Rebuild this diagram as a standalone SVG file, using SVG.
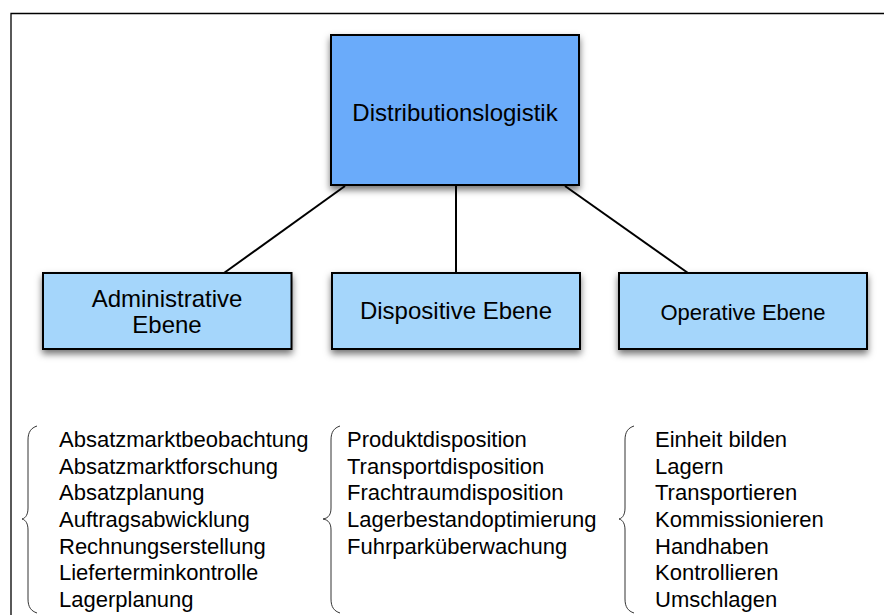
<svg xmlns="http://www.w3.org/2000/svg" width="884" height="615" viewBox="0 0 884 615">
  <style>
    .frame { fill: none; stroke: #000; stroke-width: 1.3; }
    .box { stroke: #000; stroke-width: 2; filter: url(#shadow); }
    .root { fill: #6aabfa; }
    .level { fill: #a5d6fb; }
    .label { font-family: "Liberation Sans", Arial, sans-serif; fill: #000; text-anchor: middle; }
    .item { font-family: "Liberation Sans", Arial, sans-serif; font-size: 22px; fill: #000; }
    .edge { stroke: #000; stroke-width: 2; fill: none; }
    .brace { stroke: #333; stroke-width: 1; fill: none; }
  </style>
  <defs>
    <filter id="shadow" x="-10%" y="-10%" width="120%" height="130%">
      <feDropShadow dx="0" dy="4" stdDeviation="3.5" flood-color="#000" flood-opacity="0.55"/>
    </filter>
  </defs>

  <rect width="884" height="615" fill="#fff"/>
  <path class="frame" d="M11,615 V13.5 H884"/>

  <!-- connectors -->
  <g id="connectors">
    <line class="edge" x1="345" y1="186" x2="224" y2="273"/>
    <line class="edge" x1="456" y1="186" x2="456" y2="273"/>
    <line class="edge" x1="565" y1="186" x2="688" y2="273"/>
  </g>

  <g id="distributionslogistik">
    <rect class="box root" x="331" y="35" width="248" height="150"/>
    <text class="label" x="455" y="121" font-size="24">Distributionslogistik</text>
  </g>

  <g id="administrative-ebene">
    <rect class="box level" x="43" y="273" width="248.5" height="76"/>
    <text class="label" x="167" y="307" font-size="24">Administrative</text>
    <text class="label" x="167" y="333" font-size="24">Ebene</text>
  </g>

  <g id="dispositive-ebene">
    <rect class="box level" x="332" y="273" width="248" height="76"/>
    <text class="label" x="456" y="319" font-size="24">Dispositive Ebene</text>
  </g>

  <g id="operative-ebene">
    <rect class="box level" x="619" y="273" width="248" height="76"/>
    <text class="label" x="743" y="320" font-size="22">Operative Ebene</text>
  </g>

  <!-- task lists with braces -->
  <g id="list-administrative">
    <path class="brace" d="M37,426 C31,428 28,432 28,440 L28,508 C28,514 26,518 22,519 C26,520 28,524 28,530 L28,599 C28,607 31,611 37,613"/>
    <text class="item" x="59" y="447">Absatzmarktbeobachtung</text>
    <text class="item" x="59" y="474">Absatzmarktforschung</text>
    <text class="item" x="59" y="500">Absatzplanung</text>
    <text class="item" x="59" y="527">Auftragsabwicklung</text>
    <text class="item" x="59" y="554">Rechnungserstellung</text>
    <text class="item" x="59" y="580">Lieferterminkontrolle</text>
    <text class="item" x="59" y="607">Lagerplanung</text>
  </g>

  <g id="list-dispositive">
    <path class="brace" d="M340,426 C334,428 331,432 331,440 L331,508 C331,514 329,518 323,519 C329,520 331,524 331,530 L331,599 C331,607 334,611 340,613"/>
    <text class="item" x="347" y="447">Produktdisposition</text>
    <text class="item" x="347" y="474">Transportdisposition</text>
    <text class="item" x="347" y="500">Frachtraumdisposition</text>
    <text class="item" x="347" y="527">Lagerbestandoptimierung</text>
    <text class="item" x="347" y="554">Fuhrparküberwachung</text>
  </g>

  <g id="list-operative">
    <path class="brace" d="M634,426 C628,428 625,432 625,440 L625,508 C625,514 623,518 619,519 C623,520 625,524 625,530 L625,599 C625,607 628,611 634,613"/>
    <text class="item" x="655" y="447">Einheit bilden</text>
    <text class="item" x="655" y="474">Lagern</text>
    <text class="item" x="655" y="500">Transportieren</text>
    <text class="item" x="655" y="527">Kommissionieren</text>
    <text class="item" x="655" y="554">Handhaben</text>
    <text class="item" x="655" y="580">Kontrollieren</text>
    <text class="item" x="655" y="607">Umschlagen</text>
  </g>
</svg>
